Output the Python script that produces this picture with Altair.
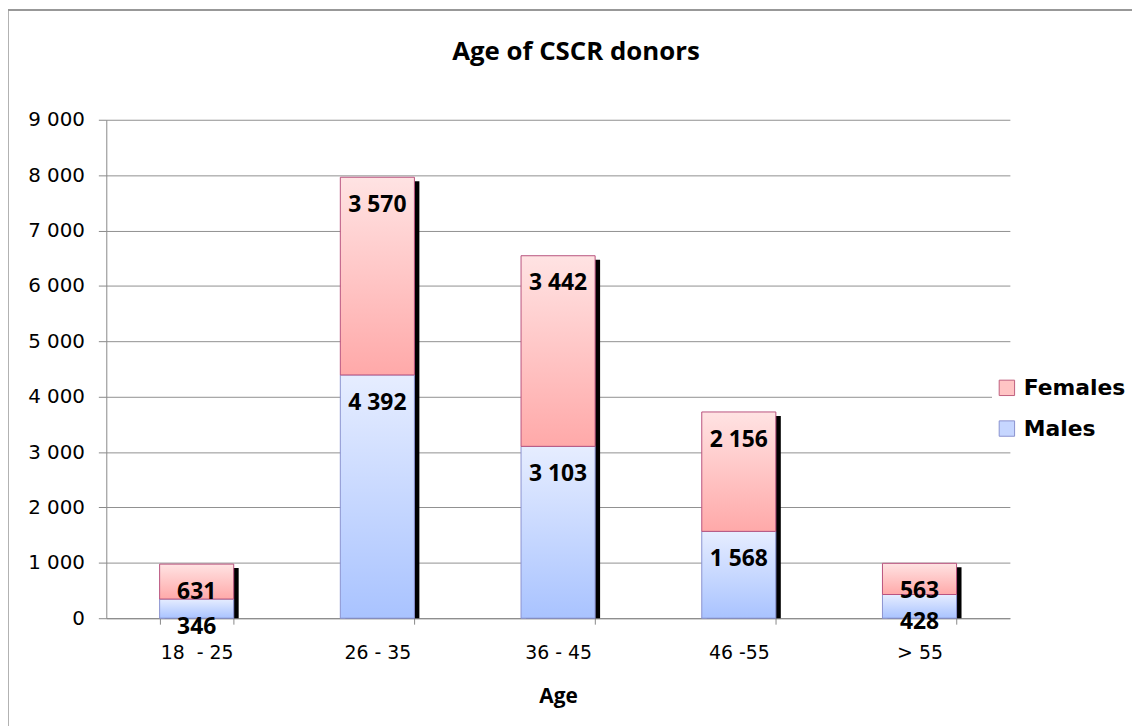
import altair as alt
import pandas as pd

categories = ["18 \u00a0- 25", "26 - 35", "36 - 45", "46 -55", "> 55"]
males = [346, 4392, 3103, 1568, 428]
females = [631, 3570, 3442, 2156, 563]
series = ["Females", "Males"]

FONT = "Open Sans"
AXFONT = "DejaVu Sans"

def fmt(v):
    return f"{v:,}".replace(",", " ")

totals = [m + f for m, f in zip(males, females)]
wide = pd.DataFrame({"cat": categories, "males": males, "females": females, "total": totals})

long_rows = []
for c, m, f, t in zip(categories, males, females, totals):
    long_rows.append({"cat": c, "series": "Males", "top": m, "label": fmt(m)})
    long_rows.append({"cat": c, "series": "Females", "top": t, "label": fmt(f)})
long = pd.DataFrame(long_rows)

x_enc = alt.X("cat:N", sort=categories, title="Age",
              scale=alt.Scale(paddingInner=0.59, paddingOuter=0.295),
              axis=alt.Axis(labelAngle=0, tickBand="extent", grid=False, tickSize=6,
                            labelFontSize=19, labelFont=AXFONT, labelColor="#000",
                            labelPadding=20, titleFontSize=21, titleFont=FONT,
                            titleFontWeight="bold", titlePadding=23,
                            domainColor="#888", tickColor="#888"))
y_scale = alt.Scale(domain=[0, 9000])
y_axis = alt.Axis(values=list(range(0, 9001, 1000)), title=None,
                  labelExpr="replace(format(datum.value, ','), ',', ' ')",
                  labelFontSize=20, labelFont=AXFONT, labelColor="#000",
                  tickSize=8, labelPadding=14, grid=True, gridColor="#909090",
                  domainColor="#888", tickColor="#888")

pink = alt.Gradient(gradient="linear", x1=0, x2=0, y1=0, y2=1,
                    stops=[alt.GradientStop(color="#ffe3e3", offset=0),
                           alt.GradientStop(color="#ffa9a9", offset=1)])
blue = alt.Gradient(gradient="linear", x1=0, x2=0, y1=0, y2=1,
                    stops=[alt.GradientStop(color="#e6edff", offset=0),
                           alt.GradientStop(color="#a9c3ff", offset=1)])

base = alt.Chart(wide)

shadow = base.mark_bar(color="#000", xOffset=5, yOffset=4).encode(
    x=x_enc,
    y=alt.Y("total:Q", scale=y_scale, axis=y_axis),
    y2=alt.datum(0),
)
male_bar = base.mark_bar(color=blue, stroke="#8a92d0", strokeWidth=1).encode(
    x=x_enc, y=alt.Y("males:Q", scale=y_scale), y2=alt.datum(0)
)
female_bar = base.mark_bar(color=pink, stroke="#b8537e", strokeWidth=1).encode(
    x=x_enc, y=alt.Y("total:Q", scale=y_scale), y2="males:Q"
)

legend_layer = alt.Chart(long).mark_square(opacity=0, size=10).encode(
    x=x_enc,
    y=alt.Y("top:Q", scale=y_scale),
    color=alt.Color("series:N", sort=series,
                    scale=alt.Scale(domain=series, range=["#ffc4c4", "#c6d6ff"]),
                    legend=alt.Legend(title=None, orient="none", legendX=892, legendY=255,
                                      symbolType="square", symbolSize=240,
                                      symbolOpacity=1, symbolStrokeWidth=1,
                                      labelFont=AXFONT, labelFontSize=22,
                                      labelFontWeight="bold", labelColor="#000",
                                      rowPadding=19, labelOffset=6,
                                      fillColor="white", padding=4)),
    stroke=alt.Stroke("series:N", sort=series,
                      scale=alt.Scale(domain=series, range=["#c0607e", "#8a92d0"]),
                      legend=None),
)

labels = alt.Chart(long).mark_text(font=FONT, fontSize=23, fontWeight="bold",
                                   color="#000", dy=28, baseline="middle").encode(
    x=x_enc, y=alt.Y("top:Q", scale=y_scale), text="label:N"
)

border = alt.Chart(wide).mark_rule(color="#999", strokeWidth=1.5).encode(
    x=alt.value(-99.5), x2=alt.value(1040), y=alt.value(-110.5)
)
border2 = alt.Chart(wide).mark_rule(color="#999", strokeWidth=1.5).encode(
    x=alt.value(-99.5), y=alt.value(-110.5), y2=alt.value(620)
)

chart = alt.layer(shadow, male_bar, female_bar, legend_layer, labels, border, border2).properties(
    width=910, height=502,
    title=alt.Title("Age of CSCR donors", font=FONT, fontSize=26, fontWeight="bold",
                    color="#000", offset=0, dy=56, dx=18),
    autosize=alt.AutoSizeParams(type="none"),
    padding={"left": 99, "top": 110, "right": 123, "bottom": 106},
).configure_view(stroke=None)

chart.save("out.html", embed_options={"renderer": "svg", "actions": False})
